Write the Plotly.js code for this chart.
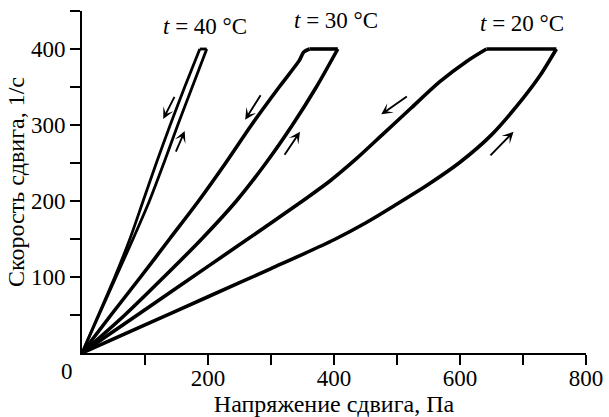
<!DOCTYPE html>
<html>
<head>
<meta charset="utf-8">
<script src="https://cdn.plot.ly/plotly-3.0.1.min.js"></script>
<style>html,body{margin:0;padding:0;background:#fff;}#chart{width:609px;height:417px;}</style>
</head>
<body>
<div id="chart"></div>
<script>
// ---- data ----
// up branch (increasing shear rate) and down branch (starting at the left end of the 400 1/s plateau)
const up40Stress   = [0, 27, 54, 81, 107, 130, 152, 175, 198];
const up40Rate     = [0, 50, 100, 150, 200, 250, 300, 350, 400];
const down40Stress = [187, 163, 140, 118, 97, 76, 52, 26, 0];
const down40Rate   = [400, 350, 300, 250, 200, 150, 100, 50, 0];

const up30Stress   = [0, 68, 130, 190, 245, 292, 334, 372, 406];
const up30Rate     = [0, 50, 100, 150, 200, 250, 300, 350, 400];
const down30Stress = [361, 352, 345, 313, 269, 228, 185, 139, 93, 46, 0];
const down30Rate   = [400, 396, 385, 350, 300, 250, 200, 150, 100, 50, 0];

const up20Stress   = [0, 100, 200, 300, 400, 450, 500, 550, 600, 650, 700, 727, 753];
const up20Rate     = [0, 37, 74, 111, 149, 171, 196, 222, 251, 287, 335, 365, 400];
const down20Stress = [642, 611, 568, 522, 479, 436, 393, 350, 300, 200, 100, 0];
const down20Rate   = [400, 384, 357, 322, 289, 256, 226, 200, 171, 114, 57, 0];

const loopLabels = ['<i>t</i> = 40 °C', '<i>t</i> = 30 °C', '<i>t</i> = 20 °C'];
const labelX = [195, 403, 698];
const labelY = [430, 437, 433];

// direction arrows: tail -> head
const arrowTailX = [148, 148, 285, 320, 518, 646];
const arrowTailY = [339, 263, 341, 259, 339, 258];
const arrowHeadX = [129, 163, 259, 346, 475, 685];
const arrowHeadY = [308, 292, 307, 291, 314, 291];

const xTickVals = [200, 400, 600, 800];
const xTickText = ['200', '400', '600', '800'];
const xMinorVals = [100, 300, 500, 700];
const yTickVals = [100, 200, 300, 400];
const yTickText = ['100', '200', '300', '400'];
const yMinorVals = [50, 150, 250, 350, 450];

const xTitle = 'Напряжение сдвига, Па';
const yTitle = 'Скорость сдвига, 1/с';

// ---- chart ----
const FONT = 'Liberation Serif, Times New Roman, serif';

function loop(upS, upR, downS, downR, w) {
  const ln = {color: '#000', width: w};
  return [
    {x: upS, y: upR, mode: 'lines', line: Object.assign({shape: 'spline', smoothing: 0.8}, ln), hoverinfo: 'skip'},
    {x: [upS[upS.length - 1], downS[0]], y: [upR[upR.length - 1], downR[0]], mode: 'lines', line: ln, hoverinfo: 'skip'},
    {x: downS, y: downR, mode: 'lines', line: Object.assign({shape: 'spline', smoothing: 0.8}, ln), hoverinfo: 'skip'}
  ];
}

const traces = [].concat(
  loop(up40Stress, up40Rate, down40Stress, down40Rate, 2.8),
  loop(up30Stress, up30Rate, down30Stress, down30Rate, 3.6),
  loop(up20Stress, up20Rate, down20Stress, down20Rate, 3.6)
);

const annotations = [];
for (let i = 0; i < loopLabels.length; i++) {
  annotations.push({x: labelX[i], y: labelY[i], xref: 'x', yref: 'y', text: loopLabels[i],
    showarrow: false, font: {family: FONT, size: 23, color: '#000'}});
}
for (let i = 0; i < arrowTailX.length; i++) {
  annotations.push({x: arrowHeadX[i], y: arrowHeadY[i], ax: arrowTailX[i], ay: arrowTailY[i],
    xref: 'x', yref: 'y', axref: 'x', ayref: 'y', text: '', showarrow: true,
    arrowhead: 3, arrowsize: 1.0, arrowwidth: 1.9, arrowcolor: '#000', standoff: 0, startstandoff: 0});
}
annotations.push({x: 0, y: 0, xref: 'x', yref: 'y', text: '0', showarrow: false,
  xshift: -15, yshift: -18, font: {family: FONT, size: 23, color: '#000'}});

const tickFont = {family: FONT, size: 23, color: '#000'};
const layout = {
  width: 609, height: 417,
  margin: {l: 82, r: 23, t: 11, b: 64, pad: 0},
  paper_bgcolor: '#fff', plot_bgcolor: '#fff',
  showlegend: false,
  font: {family: FONT, color: '#000'},
  xaxis: {
    range: [0, 800], automargin: false,
    showline: true, linecolor: '#000', linewidth: 2,
    showgrid: false, zeroline: false,
    ticks: 'outside', ticklen: 10, tickwidth: 2, tickcolor: '#000',
    tickmode: 'array', tickvals: xTickVals, ticktext: xTickText,
    tickfont: tickFont, ticklabelstandoff: -7,
    minor: {tickmode: 'array', tickvals: xMinorVals, ticks: 'outside', ticklen: 10, tickwidth: 2, tickcolor: '#000', showgrid: false},
    title: {text: xTitle, font: {family: FONT, size: 24, color: '#000'}, standoff: 0}
  },
  yaxis: {
    range: [0, 450], automargin: false,
    showline: true, linecolor: '#000', linewidth: 2,
    showgrid: false, zeroline: false,
    ticks: 'outside', ticklen: 10, tickwidth: 2, tickcolor: '#000',
    tickmode: 'array', tickvals: yTickVals, ticktext: yTickText,
    tickfont: tickFont, ticklabelstandoff: 0,
    minor: {tickmode: 'array', tickvals: yMinorVals, ticks: 'outside', ticklen: 10, tickwidth: 2, tickcolor: '#000', showgrid: false},
    title: {text: yTitle, font: {family: FONT, size: 24, color: '#000'}, standoff: 0}
  },
  annotations: annotations
};

Plotly.newPlot('chart', traces, layout, {staticPlot: true, displayModeBar: false});
</script>
</body>
</html>
